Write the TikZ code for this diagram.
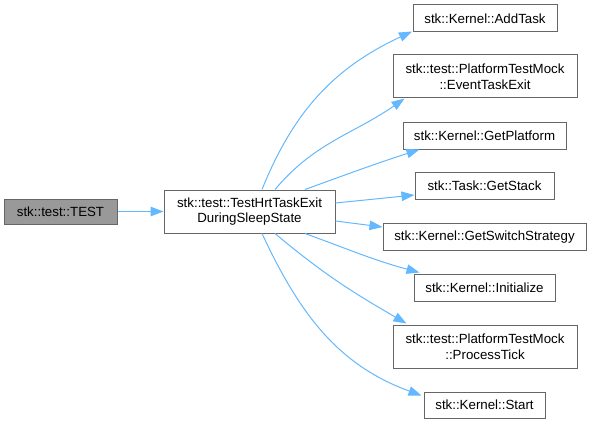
\documentclass[tikz,border=0pt]{standalone}
\usepackage{fontspec}
\setmainfont{Liberation Sans}
\usetikzlibrary{arrows.meta}
\definecolor{edgeblue}{HTML}{63B8FF}
\definecolor{boxborder}{HTML}{666666}
\definecolor{rootfill}{HTML}{999999}
\tikzset{
  fn/.style={draw=boxborder, line width=1pt, fill=white, inner sep=0pt, align=center,
    font=\fontsize{13.3}{15.5}\selectfont, text=black},
  rootfn/.style={fn, fill=rootfill},
  call/.style={draw=edgeblue, line width=1pt, -{Triangle[length=13pt,width=9.5pt,fill=edgeblue]}},
}
\begin{document}
\begin{tikzpicture}[x=1pt,y=1pt]
\useasboundingbox (0,0) rectangle (592,424);
\node[rootfn, minimum width=113pt, minimum height=25pt] (test) at (60.5,212.5) {stk::test::TEST};
\node[fn, minimum width=171pt, minimum height=43pt] (c) at (249.5,212.5) {stk::test::TestHrtTaskExit\\DuringSleepState};
\node[fn, minimum width=144pt, minimum height=27pt] (add) at (485,405.5) {stk::Kernel::AddTask};
\node[fn, minimum width=184pt, minimum height=43pt] (evt) at (485,347.5) {stk::test::PlatformTestMock\\::EventTaskExit};
\node[fn, minimum width=163pt, minimum height=26pt] (plat) at (484.5,288) {stk::Kernel::GetPlatform};
\node[fn, minimum width=139pt, minimum height=27pt] (stack) at (484.5,238) {stk::Task::GetStack};
\node[fn, minimum width=203pt, minimum height=27pt] (sw) at (484.5,187) {stk::Kernel::GetSwitchStrategy};
\node[fn, minimum width=141pt, minimum height=27pt] (init) at (484.5,136.5) {stk::Kernel::Initialize};
\node[fn, minimum width=184pt, minimum height=43pt] (tick) at (485,77.5) {stk::test::PlatformTestMock\\::ProcessTick};
\node[fn, minimum width=121pt, minimum height=26pt] (start) at (484.5,19) {stk::Kernel::Start};

\draw[call] (test.east) -- (c.west);
\draw[call] ([xshift=12.5pt]c.north) to[out=68,in=205] ([xshift=-0.5pt,yshift=1pt]add.south west);
\draw[call] ([xshift=25.5pt]c.north) to[out=50,in=215] ([xshift=12pt]evt.south west);
\draw[call] ([xshift=55.5pt]c.north) to[out=20,in=198] ([xshift=17pt]plat.south west);
\draw[call] ([yshift=8.5pt]c.east) -- ([yshift=5pt]stack.south west);
\draw[call] ([yshift=-9.5pt]c.east) -- ([yshift=-4pt]sw.north west);
\draw[call] ([xshift=55.5pt]c.south) to[out=-20,in=165] ([xshift=6pt,yshift=1pt]init.north west);
\draw[call] ([xshift=25.5pt]c.south) to[out=-40,in=150] ([xshift=14pt,yshift=1pt]tick.north west);
\draw[call] ([xshift=12.5pt]c.south) to[out=-65,in=160] ([xshift=-2pt,yshift=-4pt]start.north west);
\end{tikzpicture}
\end{document}
